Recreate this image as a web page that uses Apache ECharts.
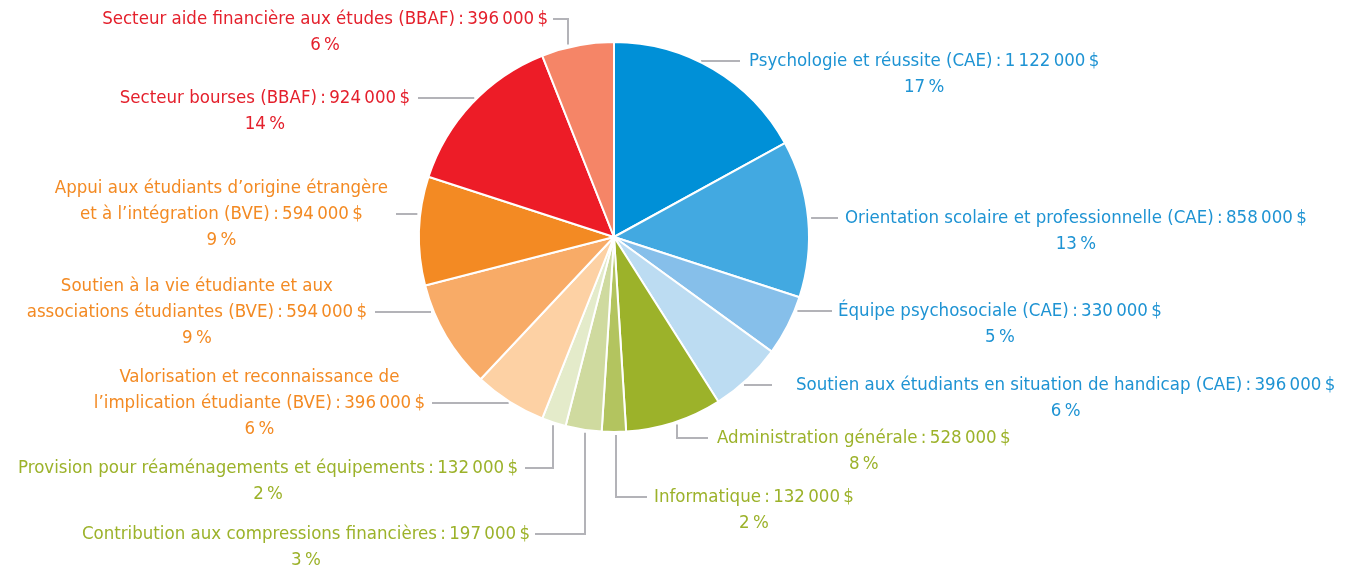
<!DOCTYPE html>
<html>
<head>
<meta charset="utf-8">
<script src="https://cdn.jsdelivr.net/npm/echarts@6/dist/echarts.min.js"></script>
<style>
  html, body { margin: 0; padding: 0; background: #fff; }
  #chart_box { width: 1357px; height: 571px; }
</style>
</head>
<body>
<div id="chart_box"></div>
<script>
// données
var labelNames = [
  'Psychologie et réussite (CAE)',
  'Orientation scolaire et professionnelle (CAE)',
  'Équipe psychosociale (CAE)',
  'Soutien aux étudiants en situation de handicap (CAE)',
  'Administration générale',
  'Informatique',
  'Contribution aux compressions financières',
  'Provision pour réaménagements et équipements',
  'Valorisation et reconnaissance de\nl’implication étudiante (BVE)',
  'Soutien à la vie étudiante et aux\nassociations étudiantes (BVE)',
  'Appui aux étudiants d’origine étrangère\net à l’intégration (BVE)',
  'Secteur bourses (BBAF)',
  'Secteur aide financière aux études (BBAF)'
]
var amounts = [1122000, 858000, 330000, 396000, 528000, 132000, 197000, 132000, 396000, 594000, 594000, 924000, 396000]
var percents = [17, 13, 5, 6, 8, 2, 3, 2, 6, 9, 9, 14, 6]
var groups = ['cae', 'cae', 'cae', 'cae', 'grn', 'grn', 'grn', 'grn', 'bve', 'bve', 'bve', 'bbaf', 'bbaf']

var sliceColors = ['#0090d7', '#42a9e1', '#86bfea', '#bcdcf2', '#9cb22a', '#b3c45f', '#cfda9f', '#e4ebca',
  '#fdd1a4', '#f8ab67', '#f38a23', '#ed1c27', '#f58567']
var groupColors = { cae: '#1e93d3', grn: '#9cb22a', bve: '#f38a23', bbaf: '#e4202c' }

// mise en page des étiquettes : [côté, x du texte, fin du trait, y du trait, ligne du montant, x du coude]
var CX = 614, CY = 237, R = 195, LH = 26, GAP = 3
var FONT = "'DejaVu Sans Condensed', 'Liberation Sans Narrow', sans-serif"
var labelPos = [
  ['R', 749, 740, 61, 0, null],
  ['R', 845, 838, 218, 0, null],
  ['R', 838, 832, 311, 0, null],
  ['R', 796, 772, 385, 0, null],
  ['R', 717, 708, 438, 0, 677],
  ['R', 654, 647, 497, 0, 616],
  ['L', 530, 535, 534, 0, 585],
  ['L', 518, 525, 468, 0, 553],
  ['L', 425, 432, 403, 1, null],
  ['L', 367, 375, 312, 1, null],
  ['L', 388, 396, 214, 1, null],
  ['L', 410, 418, 98, 0, null],
  ['L', 548, 553, 19, 0, 568]
]

function fmtMoney(v) {
  return String(v).replace(/\B(?=(\d{3})+(?!\d))/g, '\u2009') + '\u2009$'
}

var chartDom = document.getElementById('chart_box')
var myChart = echarts.init(chartDom)

var data = labelNames.map(function (n, i) {
  return {
    name: n,
    value: amounts[i],
    itemStyle: { color: sliceColors[i] },
    label: { color: groupColors[groups[i]] }
  }
})

var option = {
  animation: false,
  series: [
    {
      type: 'pie',
      center: [CX, CY],
      radius: [0, R],
      startAngle: 90,
      clockwise: true,
      avoidLabelOverlap: false,
      itemStyle: {
        borderColor: '#ffffff',
        borderWidth: 2
      },
      label: {
        show: true,
        position: 'outer',
        fontFamily: FONT,
        fontSize: 18.5,
        lineHeight: LH,
        formatter: function (p) {
          var i = p.dataIndex
          return '{t|' + labelNames[i] + '\u2009:\u2009' + fmtMoney(amounts[i]) + '}\n{t|' + percents[i] + '\u2009%}'
        },
        rich: {
          t: {
            align: 'center',
            fontFamily: FONT,
            fontSize: 18.5,
            lineHeight: LH
          }
        }
      },
      labelLine: {
        show: true,
        lineStyle: { color: '#b3b3b8', width: 2 }
      },
      labelLayout: function (params) {
        var p = labelPos[params.dataIndex]
        var right = p[0] === 'R'
        var textX = p[1], lineEnd = p[2], y = p[3], k = p[4], elbowX = p[5]
        var pts
        if (elbowX != null) {
          var dy = Math.sqrt(R * R - (elbowX - CX) * (elbowX - CX)) + GAP
          var sy = y < CY ? CY - dy : CY + dy
          pts = [[elbowX, sy], [elbowX, y], [lineEnd, y]]
        } else {
          var dx = Math.sqrt(R * R - (y - CY) * (y - CY)) + GAP
          var sx = right ? CX + dx : CX - dx
          pts = [[sx, y], [(sx + lineEnd) / 2, y], [lineEnd, y]]
        }
        return {
          x: textX,
          y: y - LH / 2 - k * LH,
          align: right ? 'left' : 'right',
          verticalAlign: 'top',
          labelLinePoints: pts
        }
      },
      data: data
    }
  ]
}

option && myChart.setOption(option)
</script>
</body>
</html>
